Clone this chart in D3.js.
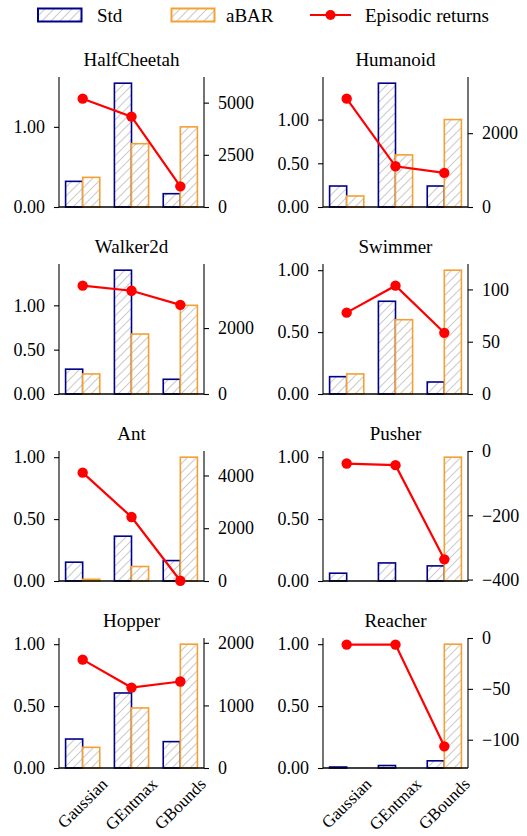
<!DOCTYPE html>
<html><head><meta charset="utf-8">
<script src="https://cdn.jsdelivr.net/npm/d3@7"></script>
<style>
body{margin:0;background:#fff}
svg{display:block}
</style>
</head><body><svg id="c" width="527" height="836"></svg>
<script>
const envs = ["HalfCheetah","Humanoid","Walker2d","Swimmer","Ant","Pusher","Hopper","Reacher"];
const methods = ["Gaussian","GEntmax","GBounds"];
const seriesNames = ["Std","aBAR","Episodic returns"];
const stdValues = [
  [0.32,1.545,0.166],[0.24,1.416,0.24],[0.28,1.396,0.166],[0.14,0.749,0.097],
  [0.152,0.362,0.165],[0.063,0.146,0.122],[0.234,0.606,0.213],[0.008,0.02,0.058]];
const abarValues = [
  [0.37,0.79,1.0],[0.126,0.596,1.0],[0.226,0.676,1.0],[0.162,0.6,1.0],
  [0.014,0.117,1.0],[0,0,1.0],[0.167,0.485,1.0],[0,0,1.0]];
const episodicReturns = [
  [5190,4330,990],[2935,1103,924],[3286,3133,2704],[77.8,103.6,58.5],
  [4106,2424,10],[-39,-44,-337],[1731,1285,1382],[-6.5,-6.5,-106.5]];
const leftTicks = [[0,1],[0,0.5,1],[0,0.5,1],[0,0.5,1],[0,0.5,1],[0,0.5,1],[0,0.5,1],[0,0.5,1]];
const rightTicks = [[0,2500,5000],[0,2000],[0,2000],[0,50,100],[0,2000,4000],[-400,-200,0],[0,1000,2000],[-100,-50,0]];

const colStd = "#00008b", colAbar = "#f5a032", colRet = "#ff0000", hatchCol = "#cccccc";
const FS = 18, FT = 19;
const FONT = "'Liberation Serif', 'Times New Roman', serif";
const svg = d3.select("#c");

// hatch pattern
const defs = svg.append("defs");
const pat = defs.append("pattern").attr("id","hatch").attr("patternUnits","userSpaceOnUse")
  .attr("width",9).attr("height",9);
pat.append("rect").attr("width",9).attr("height",9).attr("fill","#fff");
pat.append("path").attr("d","M0,9 L9,0 M-2,2 L2,-2 M7,11 L11,7")
  .attr("stroke",hatchCol).attr("stroke-width",1.1);

function styleText(sel, size) {
  sel.style("font-family", FONT).style("font-size", size + "px").style("font-weight","normal").attr("fill","#000");
}

// legend
const lg = svg.append("g");
lg.append("rect").attr("x",38).attr("y",8.5).attr("width",43.5).attr("height",13)
  .attr("fill","url(#hatch)").attr("stroke",colStd).attr("stroke-width",2);
styleText(lg.append("text").attr("x",97).attr("y",15).attr("dy","0.35em").text(seriesNames[0]), FT);
lg.append("rect").attr("x",171.5).attr("y",8.5).attr("width",43).attr("height",13)
  .attr("fill","url(#hatch)").attr("stroke",colAbar).attr("stroke-width",2);
styleText(lg.append("text").attr("x",226).attr("y",15).attr("dy","0.35em").text(seriesNames[1]), FT);
lg.append("line").attr("x1",310).attr("x2",351).attr("y1",15).attr("y2",15)
  .attr("stroke",colRet).attr("stroke-width",2.2);
lg.append("circle").attr("cx",330.5).attr("cy",15).attr("r",5).attr("fill",colRet);
styleText(lg.append("text").attr("x",365).attr("y",15).attr("dy","0.35em").text(seriesNames[2]), FT);

const colX = [59, 323], pw = 145, ph = 130;
const rowTop = [77, 264, 451, 638];

envs.forEach((env, i) => {
  const col = i % 2, row = Math.floor(i / 2);
  const x0 = colX[col], y0 = rowTop[row];
  const g = svg.append("g").attr("transform", `translate(${x0},${y0})`);
  const x = d3.scaleLinear().domain([-0.485, 2.485]).range([0, pw]);
  const bw = x(0.35) - x(0);
  const lmax = d3.max(stdValues[i].concat(abarValues[i])) * 1.05;
  const yL = d3.scaleLinear().domain([0, lmax]).range([ph, 0]);
  const r = episodicReturns[i];
  const rmax = d3.max(r), rmin = d3.min(r);
  const yR = rmin < 0 ? d3.scaleLinear().domain([rmin * 1.2, 0]).range([ph, 0])
                      : d3.scaleLinear().domain([0, rmax * 1.2]).range([ph, 0]);

  // bars
  methods.forEach((m, j) => {
    const sv = stdValues[i][j], av = abarValues[i][j];
    if (sv > 0) g.append("rect").attr("x", x(j) - bw).attr("y", yL(sv)).attr("width", bw)
      .attr("height", ph - yL(sv)).attr("fill","url(#hatch)").attr("stroke",colStd).attr("stroke-width",1.6);
    if (av > 0) g.append("rect").attr("x", x(j)).attr("y", yL(av)).attr("width", bw)
      .attr("height", ph - yL(av)).attr("fill","url(#hatch)").attr("stroke",colAbar).attr("stroke-width",1.6);
  });

  // axes
  const axL = g.append("g").call(d3.axisLeft(yL).tickValues(leftTicks[i]).tickFormat(d3.format(".2f")).tickSize(5).tickPadding(9));
  const axR = g.append("g").attr("transform",`translate(${pw},0)`)
    .call(d3.axisRight(yR).tickValues(rightTicks[i]).tickFormat(d3.format("d")).tickSize(5).tickPadding(9));
  [axL, axR].forEach(a => {
    a.attr("font-family", null).attr("font-size", null);
    styleText(a.selectAll("text"), FS);
    a.selectAll("line").attr("stroke","#000").attr("stroke-width",1.1);
    a.select(".domain").attr("stroke","#000").attr("stroke-width",1.1).attr("d", `M0,0V${ph}`);
  });
  g.append("line").attr("x1",0).attr("x2",pw).attr("y1",ph).attr("y2",ph)
    .attr("stroke","#000").attr("stroke-width",1.3);

  // line
  const line = d3.line().x((d, j) => x(j)).y(d => yR(d));
  g.append("path").datum(r).attr("d", line).attr("fill","none").attr("stroke",colRet).attr("stroke-width",2.2);
  g.selectAll("circle.m").data(r).enter().append("circle").attr("class","m")
    .attr("cx",(d,j)=>x(j)).attr("cy",d=>yR(d)).attr("r",5.2).attr("fill",colRet);

  // title
  styleText(g.append("text").attr("x", pw/2).attr("y", -11).attr("text-anchor","middle").text(env), FT);

  // x labels on bottom row
  if (row === 3) {
    methods.forEach((m, j) => {
      const t = g.append("text").attr("text-anchor","middle")
        .attr("dominant-baseline","central").text(m);
      styleText(t, 17);
      const w = t.node().getComputedTextLength();
      const hb = (w + 15) * Math.SQRT1_2;
      t.attr("transform", `translate(${x(j)},${ph + 8 + hb/2}) rotate(-45)`);
    });
  }
});
</script>
</body></html>
